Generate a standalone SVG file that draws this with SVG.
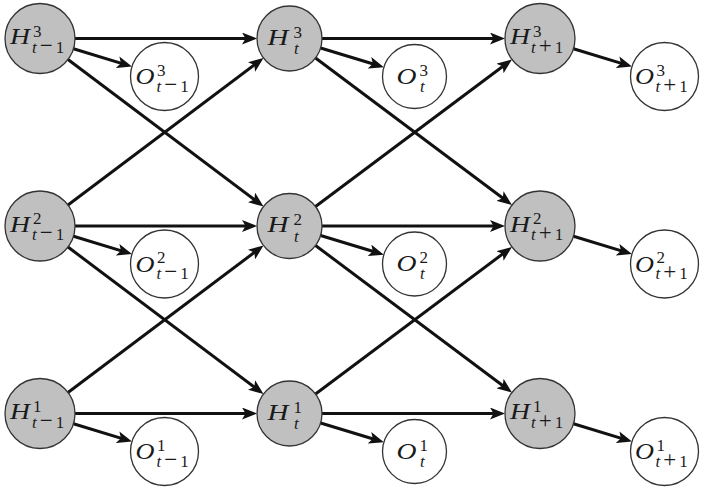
<svg xmlns="http://www.w3.org/2000/svg" width="704" height="490" viewBox="0 0 704 490">
<style>
.hn circle{fill:#c0c0c0;stroke:#333;stroke-width:1.3}
.on circle{fill:#fff;stroke:#333;stroke-width:1.3}
text{font-family:"Liberation Serif","Times New Roman",serif;fill:#1a1a1a;font-size:17px}
.big{font-size:23px;font-style:italic}
.it{font-style:italic}
.op{font-size:23px}
#edges line{stroke:#111;stroke-width:3;stroke-linecap:butt;marker-end:url(#ah)}
</style>
<defs>
<marker id="ah" markerUnits="userSpaceOnUse" viewBox="0 0 15 12" markerWidth="15" markerHeight="12" refX="10" refY="6" orient="auto">
<path d="M0,0 L15,6 L0,12 L3.5,6 Z" fill="#111"/>
</marker>
</defs>
<rect width="704" height="490" fill="#fff"/>
<g id="edges">
<line x1="75" y1="38.5" x2="252" y2="38.5"/>
<line x1="322" y1="38.5" x2="500" y2="38.5"/>
<line x1="75" y1="226" x2="252" y2="226"/>
<line x1="322" y1="226" x2="500" y2="226"/>
<line x1="75" y1="413.5" x2="252" y2="413.5"/>
<line x1="322" y1="413.5" x2="500" y2="413.5"/>
<line x1="67.98" y1="59.53" x2="259.52" y2="203.47"/>
<line x1="67.98" y1="204.97" x2="259.52" y2="61.03"/>
<line x1="67.98" y1="247.03" x2="259.52" y2="390.97"/>
<line x1="67.98" y1="392.47" x2="259.52" y2="248.53"/>
<line x1="315.52" y1="57.97" x2="507.98" y2="202.03"/>
<line x1="315.52" y1="206.53" x2="507.98" y2="62.47"/>
<line x1="315.52" y1="245.47" x2="507.98" y2="389.53"/>
<line x1="315.52" y1="394.03" x2="507.98" y2="249.97"/>
<line x1="73.48" y1="48.72" x2="127.2" y2="65.12"/>
<line x1="73.48" y1="236.22" x2="127.2" y2="252.62"/>
<line x1="73.48" y1="423.72" x2="127.2" y2="440.12"/>
<line x1="320.6" y1="47.95" x2="379.1" y2="65.74"/>
<line x1="320.6" y1="235.45" x2="379.1" y2="253.24"/>
<line x1="320.6" y1="422.95" x2="379.1" y2="440.74"/>
<line x1="573.48" y1="48.72" x2="627.2" y2="65.12"/>
<line x1="573.48" y1="236.22" x2="627.2" y2="252.62"/>
<line x1="573.48" y1="423.72" x2="627.2" y2="440.12"/>
</g>

<g id="H3_tm1" class="hn" transform="translate(40,38.5)">
<circle r="35"/>
<text x="-30" y="5.5"><tspan class="big" textLength="20" lengthAdjust="spacingAndGlyphs">H</tspan><tspan x="-7" y="-2">3</tspan><tspan x="-8" y="14"><tspan class="it">t</tspan><tspan class="op" dx="3">−</tspan><tspan dx="3">1</tspan></tspan></text>
</g>
<g id="H2_tm1" class="hn" transform="translate(40,226)">
<circle r="35"/>
<text x="-30" y="5.5"><tspan class="big" textLength="20" lengthAdjust="spacingAndGlyphs">H</tspan><tspan x="-7" y="-2">2</tspan><tspan x="-8" y="14"><tspan class="it">t</tspan><tspan class="op" dx="3">−</tspan><tspan dx="3">1</tspan></tspan></text>
</g>
<g id="H1_tm1" class="hn" transform="translate(40,413.5)">
<circle r="35"/>
<text x="-30" y="5.5"><tspan class="big" textLength="20" lengthAdjust="spacingAndGlyphs">H</tspan><tspan x="-7" y="-2">1</tspan><tspan x="-8" y="14"><tspan class="it">t</tspan><tspan class="op" dx="3">−</tspan><tspan dx="3">1</tspan></tspan></text>
</g>

<g id="H3_t" class="hn" transform="translate(289.5,38.5)">
<circle r="32.5"/>
<text x="-22" y="6"><tspan class="big" textLength="21" lengthAdjust="spacingAndGlyphs">H</tspan><tspan x="4" y="-1">3</tspan><tspan class="it" x="4.5" y="15.5">t</tspan></text>
</g>
<g id="H2_t" class="hn" transform="translate(289.5,226)">
<circle r="32.5"/>
<text x="-22" y="6"><tspan class="big" textLength="21" lengthAdjust="spacingAndGlyphs">H</tspan><tspan x="4" y="-1">2</tspan><tspan class="it" x="4.5" y="15.5">t</tspan></text>
</g>
<g id="H1_t" class="hn" transform="translate(289.5,413.5)">
<circle r="32.5"/>
<text x="-22" y="6"><tspan class="big" textLength="21" lengthAdjust="spacingAndGlyphs">H</tspan><tspan x="4" y="-1">1</tspan><tspan class="it" x="4.5" y="15.5">t</tspan></text>
</g>

<g id="H3_tp1" class="hn" transform="translate(540,38.5)">
<circle r="35"/>
<text x="-30" y="5.5"><tspan class="big" textLength="20" lengthAdjust="spacingAndGlyphs">H</tspan><tspan x="-7" y="-2">3</tspan><tspan x="-9" y="14"><tspan class="it">t</tspan><tspan class="op" dx="3">+</tspan><tspan dx="3">1</tspan></tspan></text>
</g>
<g id="H2_tp1" class="hn" transform="translate(540,226)">
<circle r="35"/>
<text x="-30" y="5.5"><tspan class="big" textLength="20" lengthAdjust="spacingAndGlyphs">H</tspan><tspan x="-7" y="-2">2</tspan><tspan x="-9" y="14"><tspan class="it">t</tspan><tspan class="op" dx="3">+</tspan><tspan dx="3">1</tspan></tspan></text>
</g>
<g id="H1_tp1" class="hn" transform="translate(540,413.5)">
<circle r="35"/>
<text x="-30" y="5.5"><tspan class="big" textLength="20" lengthAdjust="spacingAndGlyphs">H</tspan><tspan x="-7" y="-2">1</tspan><tspan x="-9" y="14"><tspan class="it">t</tspan><tspan class="op" dx="3">+</tspan><tspan dx="3">1</tspan></tspan></text>
</g>

<g id="O3_tm1" class="on" transform="translate(164.5,76.5)">
<circle r="34"/>
<text x="-29" y="7.5"><tspan class="big" textLength="19" lengthAdjust="spacingAndGlyphs">O</tspan><tspan x="-7.5" y="-1">3</tspan><tspan x="-8" y="15"><tspan class="it">t</tspan><tspan class="op" dx="3">−</tspan><tspan dx="3">1</tspan></tspan></text>
</g>
<g id="O2_tm1" class="on" transform="translate(164.5,264)">
<circle r="34"/>
<text x="-29" y="7.5"><tspan class="big" textLength="19" lengthAdjust="spacingAndGlyphs">O</tspan><tspan x="-7.5" y="-1">2</tspan><tspan x="-8" y="15"><tspan class="it">t</tspan><tspan class="op" dx="3">−</tspan><tspan dx="3">1</tspan></tspan></text>
</g>
<g id="O1_tm1" class="on" transform="translate(164.5,451.5)">
<circle r="34"/>
<text x="-29" y="7.5"><tspan class="big" textLength="19" lengthAdjust="spacingAndGlyphs">O</tspan><tspan x="-7.5" y="-1">1</tspan><tspan x="-8" y="15"><tspan class="it">t</tspan><tspan class="op" dx="3">−</tspan><tspan dx="3">1</tspan></tspan></text>
</g>

<g id="O3_t" class="on" transform="translate(414.5,76.5)">
<circle r="32"/>
<text x="-18" y="7"><tspan class="big" textLength="20" lengthAdjust="spacingAndGlyphs">O</tspan><tspan x="5" y="-1">3</tspan><tspan class="it" x="5.5" y="15">t</tspan></text>
</g>
<g id="O2_t" class="on" transform="translate(414.5,264)">
<circle r="32"/>
<text x="-18" y="7"><tspan class="big" textLength="20" lengthAdjust="spacingAndGlyphs">O</tspan><tspan x="5" y="-1">2</tspan><tspan class="it" x="5.5" y="15">t</tspan></text>
</g>
<g id="O1_t" class="on" transform="translate(414.5,451.5)">
<circle r="32"/>
<text x="-18" y="7"><tspan class="big" textLength="20" lengthAdjust="spacingAndGlyphs">O</tspan><tspan x="5" y="-1">1</tspan><tspan class="it" x="5.5" y="15">t</tspan></text>
</g>

<g id="O3_tp1" class="on" transform="translate(664.5,76.5)">
<circle r="34"/>
<text x="-29.5" y="7.5"><tspan class="big" textLength="19" lengthAdjust="spacingAndGlyphs">O</tspan><tspan x="-8" y="-1">3</tspan><tspan x="-9" y="15"><tspan class="it">t</tspan><tspan class="op" dx="3">+</tspan><tspan dx="3">1</tspan></tspan></text>
</g>
<g id="O2_tp1" class="on" transform="translate(664.5,264)">
<circle r="34"/>
<text x="-29.5" y="7.5"><tspan class="big" textLength="19" lengthAdjust="spacingAndGlyphs">O</tspan><tspan x="-8" y="-1">2</tspan><tspan x="-9" y="15"><tspan class="it">t</tspan><tspan class="op" dx="3">+</tspan><tspan dx="3">1</tspan></tspan></text>
</g>
<g id="O1_tp1" class="on" transform="translate(664.5,451.5)">
<circle r="34"/>
<text x="-29.5" y="7.5"><tspan class="big" textLength="19" lengthAdjust="spacingAndGlyphs">O</tspan><tspan x="-8" y="-1">1</tspan><tspan x="-9" y="15"><tspan class="it">t</tspan><tspan class="op" dx="3">+</tspan><tspan dx="3">1</tspan></tspan></text>
</g>
</svg>
